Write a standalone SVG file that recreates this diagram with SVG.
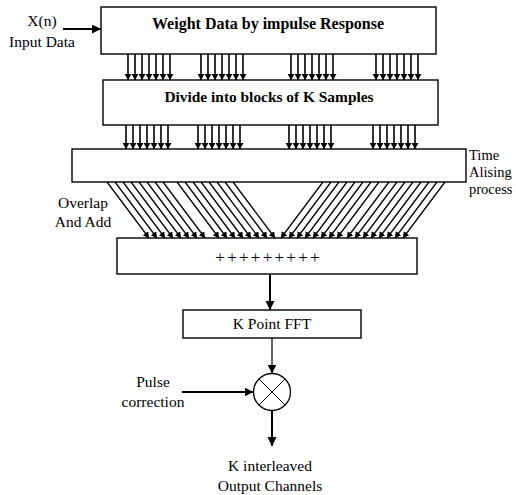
<svg xmlns="http://www.w3.org/2000/svg" width="516" height="495" viewBox="0 0 516 495">
<defs>
<style>
.box{fill:#fff;stroke:#000;stroke-width:1.4}
text{font-family:"Liberation Serif","DejaVu Serif",serif;font-size:15.5px;fill:#000;text-anchor:middle}
.b{font-weight:bold;font-size:16px}
.s{text-anchor:start;font-size:14.5px}
.thick{stroke:#000;stroke-width:2;fill:none}
.thin{stroke:#000;stroke-width:1.2;fill:none}
.vb{stroke:#000;stroke-width:1.6;fill:none}
.dg{stroke:#000;stroke-width:1.3;fill:none}
</style>
<marker id="ah" markerUnits="userSpaceOnUse" markerWidth="10" markerHeight="10" refX="9" refY="4.5" orient="auto">
<path d="M0,0 L9,4.5 L0,9 z" fill="#000"/>
</marker>
<marker id="sa" markerUnits="userSpaceOnUse" markerWidth="7" markerHeight="7" refX="6" refY="3.5" orient="auto">
<path d="M0,0 L6,3.5 L0,7 z" fill="#000"/>
</marker>
</defs>
<rect width="516" height="495" fill="#fff"/>

<g id="box1">
<rect class="box" x="101" y="7" width="335" height="47"/>
<text class="b" x="268" y="29">Weight Data by impulse Response</text>
</g>
<g id="box2">
<rect class="box" x="103" y="80" width="335" height="45"/>
<text class="b" x="269" y="102" style="font-size:15.4px">Divide into blocks of K Samples</text>
</g>
<g id="box3">
<rect class="box" x="72" y="149" width="394" height="33"/>
</g>
<g id="box4">
<rect class="box" x="117" y="238" width="300" height="36"/>
<text x="267" y="263" style="font-size:17px;letter-spacing:-1px">+ + + + + + + + +</text>
</g>
<g id="fft">
<rect class="box" x="183" y="310" width="178" height="28"/>
<text x="272" y="329">K Point FFT</text>
</g>
<g id="mixer">
<circle cx="272" cy="392" r="18.5" fill="#fff" stroke="#000" stroke-width="1.3"/>
<path d="M259,379 L285,405 M285,379 L259,405" stroke="#000" stroke-width="1"/>
</g>
<g id="labels">
<text x="42" y="26">X(n)</text>
<text x="42" y="47">Input Data</text>
<text class="s" x="469" y="160">Time</text>
<text class="s" x="469" y="177">Alising</text>
<text class="s" x="469" y="194">process</text>
<text x="83" y="208">Overlap</text>
<text x="83" y="227">And Add</text>
<text x="153" y="387">Pulse</text>
<text x="153" y="407">correction</text>
<text x="270" y="471">K interleaved</text>
<text x="270" y="491">Output Channels</text>
</g>

<g id="connectors">
<line class="thick" x1="63" y1="29" x2="101" y2="29" marker-end="url(#ah)"/>
<g class="vb" marker-end="url(#sa)">
<line x1="128" y1="54" x2="128" y2="80"/><line x1="135" y1="54" x2="135" y2="80"/><line x1="142" y1="54" x2="142" y2="80"/><line x1="149" y1="54" x2="149" y2="80"/><line x1="156" y1="54" x2="156" y2="80"/><line x1="163" y1="54" x2="163" y2="80"/><line x1="170" y1="54" x2="170" y2="80"/>
<line x1="201" y1="54" x2="201" y2="80"/><line x1="208" y1="54" x2="208" y2="80"/><line x1="215" y1="54" x2="215" y2="80"/><line x1="222" y1="54" x2="222" y2="80"/><line x1="229" y1="54" x2="229" y2="80"/><line x1="236" y1="54" x2="236" y2="80"/><line x1="243" y1="54" x2="243" y2="80"/>
<line x1="291" y1="54" x2="291" y2="80"/><line x1="298" y1="54" x2="298" y2="80"/><line x1="305" y1="54" x2="305" y2="80"/><line x1="312" y1="54" x2="312" y2="80"/><line x1="319" y1="54" x2="319" y2="80"/><line x1="326" y1="54" x2="326" y2="80"/><line x1="333" y1="54" x2="333" y2="80"/>
<line x1="376" y1="54" x2="376" y2="80"/><line x1="383" y1="54" x2="383" y2="80"/><line x1="390" y1="54" x2="390" y2="80"/><line x1="397" y1="54" x2="397" y2="80"/><line x1="404" y1="54" x2="404" y2="80"/><line x1="411" y1="54" x2="411" y2="80"/><line x1="418" y1="54" x2="418" y2="80"/>
</g>
<g class="vb" marker-end="url(#sa)">
<line x1="126" y1="125" x2="126" y2="149"/><line x1="133" y1="125" x2="133" y2="149"/><line x1="140" y1="125" x2="140" y2="149"/><line x1="147" y1="125" x2="147" y2="149"/><line x1="154" y1="125" x2="154" y2="149"/><line x1="161" y1="125" x2="161" y2="149"/><line x1="168" y1="125" x2="168" y2="149"/>
<line x1="198" y1="125" x2="198" y2="149"/><line x1="205" y1="125" x2="205" y2="149"/><line x1="212" y1="125" x2="212" y2="149"/><line x1="219" y1="125" x2="219" y2="149"/><line x1="226" y1="125" x2="226" y2="149"/><line x1="233" y1="125" x2="233" y2="149"/><line x1="240" y1="125" x2="240" y2="149"/>
<line x1="289" y1="125" x2="289" y2="149"/><line x1="296" y1="125" x2="296" y2="149"/><line x1="303" y1="125" x2="303" y2="149"/><line x1="310" y1="125" x2="310" y2="149"/><line x1="317" y1="125" x2="317" y2="149"/><line x1="324" y1="125" x2="324" y2="149"/><line x1="331" y1="125" x2="331" y2="149"/>
<line x1="373" y1="125" x2="373" y2="149"/><line x1="380" y1="125" x2="380" y2="149"/><line x1="387" y1="125" x2="387" y2="149"/><line x1="394" y1="125" x2="394" y2="149"/><line x1="401" y1="125" x2="401" y2="149"/><line x1="408" y1="125" x2="408" y2="149"/><line x1="415" y1="125" x2="415" y2="149"/>
</g>
<g class="dg" marker-end="url(#sa)">
<line x1="107" y1="182" x2="149" y2="238"/><line x1="115" y1="182" x2="157" y2="238"/><line x1="123" y1="182" x2="165" y2="238"/><line x1="131" y1="182" x2="173" y2="238"/><line x1="139" y1="182" x2="181" y2="238"/><line x1="147" y1="182" x2="189" y2="238"/><line x1="155" y1="182" x2="197" y2="238"/><line x1="163" y1="182" x2="205" y2="238"/>
<line x1="177" y1="182" x2="219" y2="238"/><line x1="185" y1="182" x2="227" y2="238"/><line x1="193" y1="182" x2="235" y2="238"/><line x1="201" y1="182" x2="243" y2="238"/><line x1="209" y1="182" x2="251" y2="238"/><line x1="217" y1="182" x2="259" y2="238"/><line x1="225" y1="182" x2="267" y2="238"/><line x1="233" y1="182" x2="275" y2="238"/>
<line x1="323" y1="182" x2="281" y2="238"/><line x1="331" y1="182" x2="289" y2="238"/><line x1="339" y1="182" x2="297" y2="238"/><line x1="347" y1="182" x2="305" y2="238"/><line x1="355" y1="182" x2="313" y2="238"/><line x1="363" y1="182" x2="321" y2="238"/><line x1="371" y1="182" x2="329" y2="238"/><line x1="379" y1="182" x2="337" y2="238"/>
<line x1="389" y1="182" x2="347" y2="238"/><line x1="397" y1="182" x2="355" y2="238"/><line x1="405" y1="182" x2="363" y2="238"/><line x1="413" y1="182" x2="371" y2="238"/><line x1="421" y1="182" x2="379" y2="238"/><line x1="429" y1="182" x2="387" y2="238"/><line x1="437" y1="182" x2="395" y2="238"/><line x1="445" y1="182" x2="403" y2="238"/>
</g>
<line class="thick" x1="270" y1="274" x2="270" y2="310" marker-end="url(#ah)"/>
<line class="thin" x1="272" y1="338" x2="272" y2="373.5" marker-end="url(#ah)"/>
<line class="thick" x1="182" y1="392" x2="253.5" y2="392" marker-end="url(#ah)"/>
<line class="thick" x1="272" y1="410.5" x2="272" y2="446" marker-end="url(#ah)"/>
</g>
</svg>
